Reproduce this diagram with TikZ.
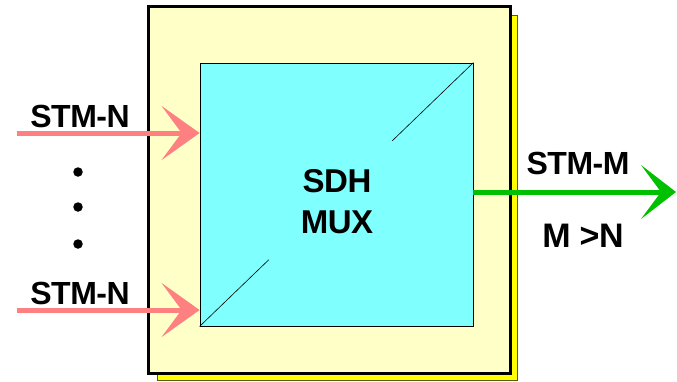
\documentclass[tikz,border=0pt]{standalone}
\usepackage{fontspec}
\setmainfont{Liberation Sans}
\newfontfamily\tightfont[LetterSpace=-1.5]{Liberation Sans}
\usetikzlibrary{arrows.meta,calc}
\definecolor{cream}{RGB}{255,255,200}
\definecolor{muxcyan}{RGB}{128,255,255}
\definecolor{inpink}{RGB}{255,128,128}
\definecolor{outgreen}{RGB}{0,192,0}
\definecolor{shadowyellow}{RGB}{255,255,0}
\definecolor{shadowedge}{RGB}{90,90,0}
\begin{document}
\begin{tikzpicture}[x=1pt,y=-1pt,
  lbl/.style={font=\tightfont\fontsize{32}{33}\selectfont\bfseries, inner sep=0pt},
  biglbl/.style={font=\tightfont\fontsize{33}{34}\selectfont\bfseries, inner sep=0pt},
  inarrow/.style={draw=inpink, line width=5pt, -{Stealth[length=38pt 0 0,width=54pt 0 0,inset=20pt 0 0,fill=inpink]}},
  outarrow/.style={draw=outgreen, line width=5pt, -{Stealth[length=35pt 0 0,width=54pt 0 0,inset=20pt 0 0,fill=outgreen]}},
  dotmark/.style={circle, fill=black, inner sep=0pt, minimum size=9.5pt}]
\useasboundingbox (0,0) rectangle (677,381);
% shadow and outer box
\node[draw=shadowedge, line width=1pt, fill=shadowyellow, minimum width=360pt, minimum height=365pt, inner sep=0pt] (shadow) at (337,197.5) {};
\node[draw=black, line width=3pt, fill=cream, minimum width=362pt, minimum height=367pt, inner sep=0pt] (outer) at (329,189.5) {};
% inner mux box
\node[draw=black, line width=0.8pt, fill=muxcyan, minimum width=273pt, minimum height=263pt, inner sep=0pt] (inner) at (336.5,194.5) {};
\draw[line width=0.6pt] (inner.south west) -- ($(inner.south west)!0.253!(inner.north east)$);
\draw[line width=0.6pt] ($(inner.south west)!0.703!(inner.north east)$) -- (inner.north east);
\node[biglbl] (sdh) at (337,181.5) {SDH};
\node[biglbl] (mux) at (337,222.5) {MUX};
% inputs
\coordinate (in1) at (17,133);
\coordinate (in2) at (17,310);
\draw[inarrow] (in1) -- (inner.west |- in1);
\draw[inarrow] (in2) -- (inner.west |- in2);
\node[lbl] (stmn1) at (80,116) {STM-N};
\node[lbl] (stmn2) at (80,293.5) {STM-N};
\node[dotmark] (d1) at (78,172) {};
\node[dotmark] (d2) at (78,207) {};
\node[dotmark] (d3) at (78,244) {};
% output
\coordinate (out) at (676,192);
\draw[outarrow] (inner.east |- out) -- (out);
\node[lbl] (stmm) at (578,163) {STM-M};
\node[biglbl, font=\tightfont\fontsize{34}{35}\selectfont\bfseries] (mgn) at (583,235.5) {M >N};
\end{tikzpicture}
\end{document}
